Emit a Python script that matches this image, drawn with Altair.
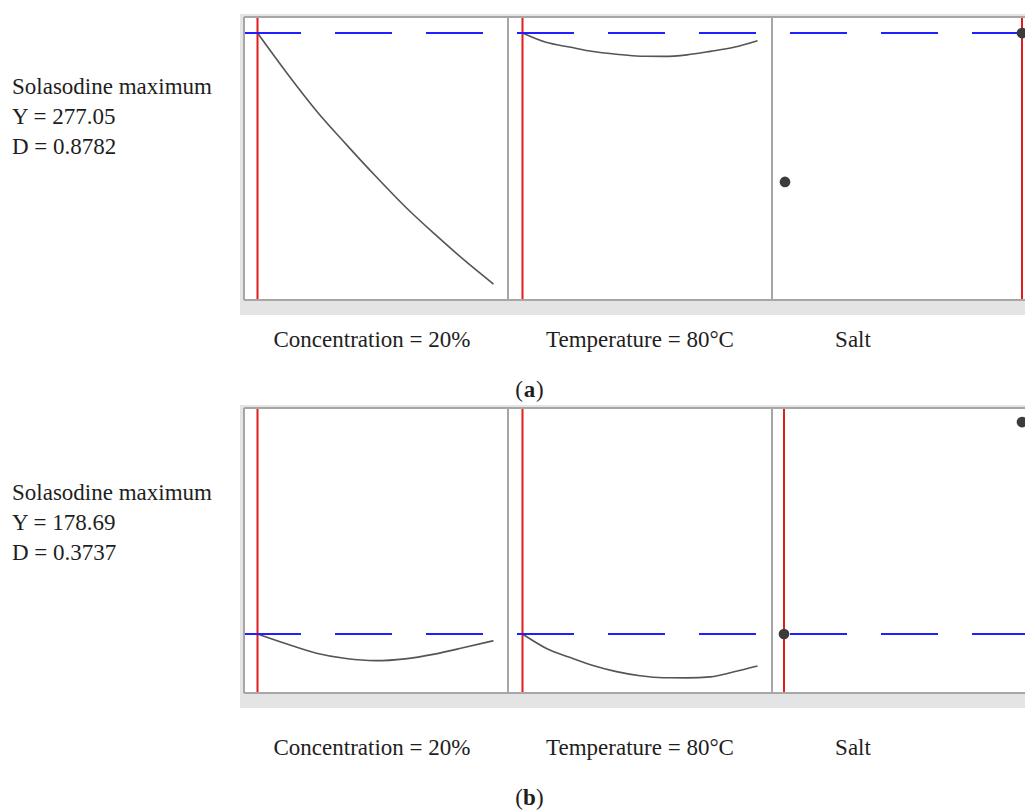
import altair as alt
import pandas as pd

# ---------------- data ----------------
conc_levels = [20, 25, 30, 35, 40, 45, 50, 55, 60]
temp_levels = [80, 82, 84, 86, 88, 90, 92, 94, 96, 98, 100]
salt_levels = ["Low", "High"]

conc_resp_a = [277.05, 250.4, 225.4, 203.4, 182.2, 162.0, 143.8, 126.6, 110.6]
temp_resp_a = [277.05, 270.9, 267.8, 264.8, 263.0, 261.7, 261.6, 262.6, 264.9, 267.6, 272.0]
salt_resp_a = [178.3, 277.05]

conc_resp_b = [178.69, 172.1, 166.1, 162.6, 161.2, 162.4, 165.5, 169.8, 174.3]
temp_resp_b = [178.69, 169.4, 163.4, 158.0, 154.0, 151.3, 150.0, 149.9, 150.6, 153.9, 157.7]
salt_resp_b = [178.69, 317.7]

opt_conc = 20
opt_temp = 80
opt_salt_a = "High"
opt_salt_b = "Low"
opt_y_a = 277.05
opt_y_b = 178.69

side_text_a = ["Solasodine maximum", "Y = 277.05", "D = 0.8782"]
side_text_b = ["Solasodine maximum", "Y = 178.69", "D = 0.3737"]
factor_labels = ["Concentration = 20%", "Temperature = 80°C", "Salt"]

# ---------------- layout / style ----------------
W, H = 1025, 812
FONT = "Liberation Serif"
TXT = "#1e1e1e"
FRAME_BG = "#e4e4e4"
BORDER = "#a6a6a6"
RED = "#e21b1b"
BLUE = "#1f1fff"
CURVE = "#555555"
DOT = "#3c3c3c"

PANEL_EDGES = [244, 508, 772]
CONC_RANGE = [257.5, 493.5]
TEMP_RANGE = [522.5, 757.5]
LABEL_X = [372, 640, 853]


def row_layers(top, bottom, ydomain, conc_resp, temp_resp, salt_resp,
               opt_salt, opt_y, salt_range, side_text, side_base, label_base,
               cap, cap_base):
    layers = []
    yscale = alt.Scale(domain=ydomain, range=[bottom, top], nice=False, zero=False)
    # frame background
    layers.append(alt.Chart(pd.DataFrame({"a": [0]})).mark_rect(color=FRAME_BG).encode(
        x=alt.value(240), x2=alt.value(W), y=alt.value(top - 3), y2=alt.value(bottom + 15)))
    layers.append(alt.Chart(pd.DataFrame({"a": [0]})).mark_rect(color="white").encode(
        x=alt.value(244), x2=alt.value(W), y=alt.value(top), y2=alt.value(bottom)))

    # curves
    conc_df = pd.DataFrame({"c": conc_levels, "v": conc_resp})
    layers.append(alt.Chart(conc_df).mark_line(color=CURVE, strokeWidth=1.6, interpolate="monotone").encode(
        x=alt.X("c:Q", scale=alt.Scale(domain=[20, 60], range=CONC_RANGE, nice=False, zero=False), axis=None),
        y=alt.Y("v:Q", scale=yscale, axis=None)))
    temp_df = pd.DataFrame({"t": temp_levels, "v": temp_resp})
    layers.append(alt.Chart(temp_df).mark_line(color=CURVE, strokeWidth=1.6, interpolate="monotone").encode(
        x=alt.X("t:Q", scale=alt.Scale(domain=[80, 100], range=TEMP_RANGE, nice=False, zero=False), axis=None),
        y=alt.Y("v:Q", scale=yscale, axis=None)))

    # optimum (red) settings
    layers.append(alt.Chart(pd.DataFrame({"c": [opt_conc]})).mark_rule(color=RED, strokeWidth=2).encode(
        x=alt.X("c:Q", scale=alt.Scale(domain=[20, 60], range=CONC_RANGE, nice=False, zero=False), axis=None),
        y=alt.value(top), y2=alt.value(bottom)))
    layers.append(alt.Chart(pd.DataFrame({"t": [opt_temp]})).mark_rule(color=RED, strokeWidth=2).encode(
        x=alt.X("t:Q", scale=alt.Scale(domain=[80, 100], range=TEMP_RANGE, nice=False, zero=False), axis=None),
        y=alt.value(top), y2=alt.value(bottom)))
    salt_scale = alt.Scale(type="point", domain=salt_levels, range=salt_range, padding=0)
    layers.append(alt.Chart(pd.DataFrame({"s": [opt_salt]})).mark_rule(color=RED, strokeWidth=2).encode(
        x=alt.X("s:O", scale=salt_scale, axis=None),
        y=alt.value(top), y2=alt.value(bottom)))

    # optimum response (blue dashed)
    layers.append(alt.Chart(pd.DataFrame({"v": [opt_y]})).mark_rule(
        color=BLUE, strokeWidth=2, strokeDash=[57, 34]).encode(
        y=alt.Y("v:Q", scale=yscale, axis=None),
        x=alt.value(244), x2=alt.value(W)))

    # salt points
    salt_df = pd.DataFrame({"s": salt_levels, "v": salt_resp})
    layers.append(alt.Chart(salt_df).mark_circle(color=DOT, opacity=1, size=115).encode(
        x=alt.X("s:O", scale=salt_scale, axis=None),
        y=alt.Y("v:Q", scale=yscale, axis=None)))

    # borders
    for xe in PANEL_EDGES:
        layers.append(alt.Chart(pd.DataFrame({"a": [0]})).mark_rule(color=BORDER, strokeWidth=2).encode(
            x=alt.value(xe), y=alt.value(top), y2=alt.value(bottom)))
    for ye in (top, bottom):
        layers.append(alt.Chart(pd.DataFrame({"a": [0]})).mark_rule(color=BORDER, strokeWidth=2).encode(
            y=alt.value(ye), x=alt.value(244), x2=alt.value(W)))

    # side text
    for i, t in enumerate(side_text):
        layers.append(alt.Chart(pd.DataFrame({"a": [0]})).mark_text(
            text=t, font=FONT, fontSize=23, color=TXT, align="left", baseline="alphabetic").encode(
            x=alt.value(12), y=alt.value(side_base + 30 * i)))
    # factor labels
    for lx, t in zip(LABEL_X, factor_labels):
        layers.append(alt.Chart(pd.DataFrame({"a": [0]})).mark_text(
            text=t, font=FONT, fontSize=23, color=TXT, align="center", baseline="alphabetic").encode(
            x=alt.value(lx), y=alt.value(label_base)))
    # caption (x) with bold letter
    layers.append(alt.Chart(pd.DataFrame({"a": [0]})).mark_text(
        text="(", font=FONT, fontSize=23, color=TXT, align="right", baseline="alphabetic").encode(
        x=alt.value(523), y=alt.value(cap_base)))
    layers.append(alt.Chart(pd.DataFrame({"a": [0]})).mark_text(
        text=cap, font=FONT, fontSize=23, fontWeight="bold", color=TXT, align="center", baseline="alphabetic").encode(
        x=alt.value(529.5), y=alt.value(cap_base)))
    layers.append(alt.Chart(pd.DataFrame({"a": [0]})).mark_text(
        text=")", font=FONT, fontSize=23, color=TXT, align="left", baseline="alphabetic").encode(
        x=alt.value(536), y=alt.value(cap_base)))
    return layers


layers = []
layers += row_layers(17, 300, [100, 287.7], conc_resp_a, temp_resp_a, salt_resp_a,
                     opt_salt_a, opt_y_a, [785, 1022], side_text_a, 94, 347, "a", 397)
layers += row_layers(408, 693, [140, 326.9], conc_resp_b, temp_resp_b, salt_resp_b,
                     opt_salt_b, opt_y_b, [784, 1022], side_text_b, 500, 755, "b", 805)

chart = alt.layer(*layers).resolve_scale(x="independent", y="independent").properties(
    width=W, height=H, autosize=alt.AutoSizeParams(type="none"), padding=0,
    background="white"
).configure_view(strokeWidth=0)

chart.save("out.html", embed_options={"renderer": "svg", "actions": False})
